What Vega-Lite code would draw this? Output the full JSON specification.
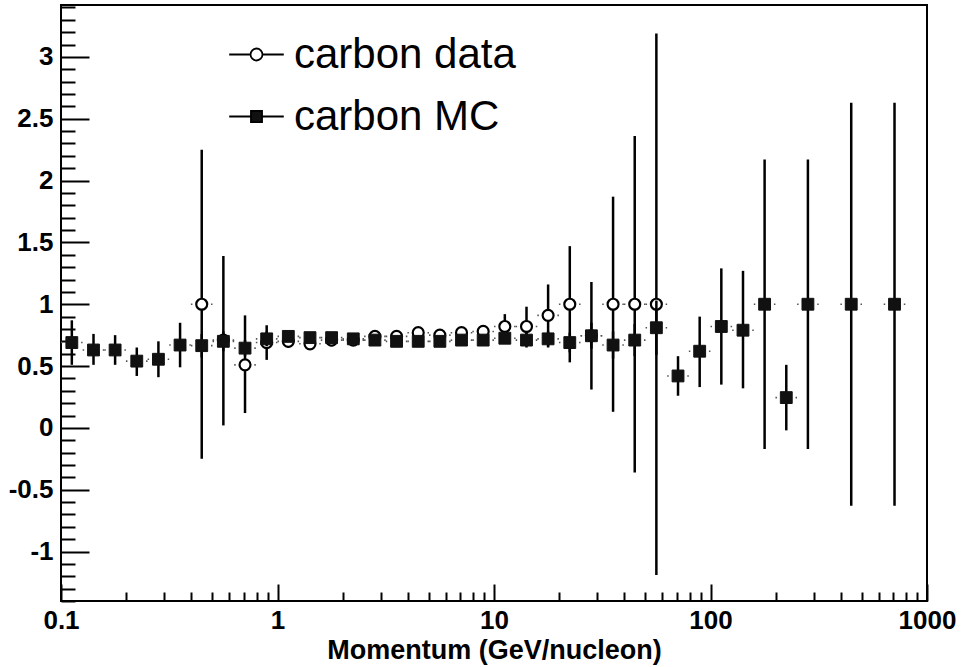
{
  "$schema": "https://vega.github.io/schema/vega-lite/v6.json",
  "width": 866,
  "height": 596,
  "autosize": {"type": "none"},
  "padding": {"left": 61, "top": 5, "right": 34, "bottom": 66},
  "background": "white",
  "config": {
    "view": {"stroke": "black", "strokeWidth": 2},
    "axis": {
      "domain": false,
      "grid": false,
      "tickColor": "black",
      "tickWidth": 2,
      "labelFont": "Liberation Sans",
      "labelFontWeight": "bold",
      "labelFontSize": 26,
      "labelColor": "black",
      "labelFlush": false,
      "labelOverlap": false,
      "labelBound": false,
      "titleFont": "Liberation Sans",
      "titleFontWeight": "bold",
      "titleFontSize": 27,
      "titleColor": "black"
    },
    "legend": {
      "orient": "none",
      "legendX": 174.5,
      "legendY": 28.5,
      "padding": 0,
      "labelFont": "Liberation Sans",
      "labelFontSize": 42,
      "labelFontWeight": "normal",
      "labelColor": "black",
      "labelLimit": 0,
      "labelOffset": 16.5,
      "rowPadding": 20,
      "symbolSize": 169,
      "symbolStrokeColor": "black",
      "symbolStrokeWidth": 1.8,
      "symbolOpacity": 1
    }
  },
  "resolve": {"axis": {"x": "independent", "y": "independent"}},
  "datasets": {
    "pts": [
      {"s": "carbon data", "x": 0.4467, "xlo": 0.3981, "xhi": 0.5012, "y": 1.0, "ylo": -0.25, "yhi": 2.25},
      {"s": "carbon data", "x": 0.5623, "xlo": 0.5012, "xhi": 0.631, "y": 0.71, "ylo": 0.02, "yhi": 1.39},
      {"s": "carbon data", "x": 0.7079, "xlo": 0.631, "xhi": 0.7943, "y": 0.51, "ylo": 0.12, "yhi": 0.91},
      {"s": "carbon data", "x": 0.8913, "xlo": 0.7943, "xhi": 1.0, "y": 0.69, "ylo": 0.55, "yhi": 0.83},
      {"s": "carbon data", "x": 1.122, "xlo": 1.0, "xhi": 1.259, "y": 0.70, "ylo": 0.65, "yhi": 0.75},
      {"s": "carbon data", "x": 1.413, "xlo": 1.259, "xhi": 1.585, "y": 0.68, "ylo": 0.63, "yhi": 0.73},
      {"s": "carbon data", "x": 1.778, "xlo": 1.585, "xhi": 1.995, "y": 0.71, "ylo": 0.66, "yhi": 0.76},
      {"s": "carbon data", "x": 2.239, "xlo": 1.995, "xhi": 2.512, "y": 0.71, "ylo": 0.67, "yhi": 0.75},
      {"s": "carbon data", "x": 2.818, "xlo": 2.512, "xhi": 3.162, "y": 0.74, "ylo": 0.70, "yhi": 0.78},
      {"s": "carbon data", "x": 3.548, "xlo": 3.162, "xhi": 3.981, "y": 0.74, "ylo": 0.70, "yhi": 0.78},
      {"s": "carbon data", "x": 4.467, "xlo": 3.981, "xhi": 5.012, "y": 0.77, "ylo": 0.73, "yhi": 0.81},
      {"s": "carbon data", "x": 5.623, "xlo": 5.012, "xhi": 6.31, "y": 0.75, "ylo": 0.70, "yhi": 0.80},
      {"s": "carbon data", "x": 7.079, "xlo": 6.31, "xhi": 7.943, "y": 0.77, "ylo": 0.73, "yhi": 0.81},
      {"s": "carbon data", "x": 8.913, "xlo": 7.943, "xhi": 10, "y": 0.78, "ylo": 0.73, "yhi": 0.83},
      {"s": "carbon data", "x": 11.22, "xlo": 10, "xhi": 12.59, "y": 0.82, "ylo": 0.72, "yhi": 0.92},
      {"s": "carbon data", "x": 14.13, "xlo": 12.59, "xhi": 15.85, "y": 0.82, "ylo": 0.66, "yhi": 0.98},
      {"s": "carbon data", "x": 17.78, "xlo": 15.85, "xhi": 19.95, "y": 0.91, "ylo": 0.65, "yhi": 1.16},
      {"s": "carbon data", "x": 22.39, "xlo": 19.95, "xhi": 25.12, "y": 1.0, "ylo": 0.53, "yhi": 1.47},
      {"s": "carbon data", "x": 28.18, "xlo": 25.12, "xhi": 31.62, "y": 0.745, "ylo": 0.31, "yhi": 1.18},
      {"s": "carbon data", "x": 35.48, "xlo": 31.62, "xhi": 39.81, "y": 1.0, "ylo": 0.13, "yhi": 1.87},
      {"s": "carbon data", "x": 44.67, "xlo": 39.81, "xhi": 50.12, "y": 1.0, "ylo": -0.36, "yhi": 2.36},
      {"s": "carbon data", "x": 56.23, "xlo": 50.12, "xhi": 63.1, "y": 1.0, "ylo": -1.19, "yhi": 3.19},
      {"s": "carbon MC", "x": 0.1122, "xlo": 0.1, "xhi": 0.1259, "y": 0.69, "ylo": 0.51, "yhi": 0.87},
      {"s": "carbon MC", "x": 0.1413, "xlo": 0.1259, "xhi": 0.1585, "y": 0.63, "ylo": 0.51, "yhi": 0.76},
      {"s": "carbon MC", "x": 0.1778, "xlo": 0.1585, "xhi": 0.1995, "y": 0.63, "ylo": 0.51, "yhi": 0.75},
      {"s": "carbon MC", "x": 0.2239, "xlo": 0.1995, "xhi": 0.2512, "y": 0.54, "ylo": 0.42, "yhi": 0.65},
      {"s": "carbon MC", "x": 0.2818, "xlo": 0.2512, "xhi": 0.3162, "y": 0.555, "ylo": 0.41, "yhi": 0.70},
      {"s": "carbon MC", "x": 0.3548, "xlo": 0.3162, "xhi": 0.3981, "y": 0.67, "ylo": 0.49, "yhi": 0.85},
      {"s": "carbon MC", "x": 0.4467, "xlo": 0.3981, "xhi": 0.5012, "y": 0.665, "ylo": 0.57, "yhi": 0.76},
      {"s": "carbon MC", "x": 0.5623, "xlo": 0.5012, "xhi": 0.631, "y": 0.70, "ylo": 0.62, "yhi": 0.78},
      {"s": "carbon MC", "x": 0.7079, "xlo": 0.631, "xhi": 0.7943, "y": 0.645, "ylo": 0.58, "yhi": 0.71},
      {"s": "carbon MC", "x": 0.8913, "xlo": 0.7943, "xhi": 1.0, "y": 0.72, "ylo": 0.66, "yhi": 0.78},
      {"s": "carbon MC", "x": 1.122, "xlo": 1.0, "xhi": 1.259, "y": 0.74, "ylo": 0.70, "yhi": 0.78},
      {"s": "carbon MC", "x": 1.413, "xlo": 1.259, "xhi": 1.585, "y": 0.73, "ylo": 0.69, "yhi": 0.77},
      {"s": "carbon MC", "x": 1.778, "xlo": 1.585, "xhi": 1.995, "y": 0.73, "ylo": 0.69, "yhi": 0.77},
      {"s": "carbon MC", "x": 2.239, "xlo": 1.995, "xhi": 2.512, "y": 0.72, "ylo": 0.68, "yhi": 0.76},
      {"s": "carbon MC", "x": 2.818, "xlo": 2.512, "xhi": 3.162, "y": 0.71, "ylo": 0.68, "yhi": 0.74},
      {"s": "carbon MC", "x": 3.548, "xlo": 3.162, "xhi": 3.981, "y": 0.70, "ylo": 0.67, "yhi": 0.73},
      {"s": "carbon MC", "x": 4.467, "xlo": 3.981, "xhi": 5.012, "y": 0.70, "ylo": 0.67, "yhi": 0.73},
      {"s": "carbon MC", "x": 5.623, "xlo": 5.012, "xhi": 6.31, "y": 0.70, "ylo": 0.67, "yhi": 0.73},
      {"s": "carbon MC", "x": 7.079, "xlo": 6.31, "xhi": 7.943, "y": 0.71, "ylo": 0.67, "yhi": 0.75},
      {"s": "carbon MC", "x": 8.913, "xlo": 7.943, "xhi": 10, "y": 0.71, "ylo": 0.67, "yhi": 0.75},
      {"s": "carbon MC", "x": 11.22, "xlo": 10, "xhi": 12.59, "y": 0.725, "ylo": 0.68, "yhi": 0.77},
      {"s": "carbon MC", "x": 14.13, "xlo": 12.59, "xhi": 15.85, "y": 0.71, "ylo": 0.65, "yhi": 0.77},
      {"s": "carbon MC", "x": 17.78, "xlo": 15.85, "xhi": 19.95, "y": 0.72, "ylo": 0.66, "yhi": 0.78},
      {"s": "carbon MC", "x": 22.39, "xlo": 19.95, "xhi": 25.12, "y": 0.69, "ylo": 0.61, "yhi": 0.77},
      {"s": "carbon MC", "x": 28.18, "xlo": 25.12, "xhi": 31.62, "y": 0.745, "ylo": 0.64, "yhi": 0.85},
      {"s": "carbon MC", "x": 35.48, "xlo": 31.62, "xhi": 39.81, "y": 0.67, "ylo": 0.56, "yhi": 0.78},
      {"s": "carbon MC", "x": 44.67, "xlo": 39.81, "xhi": 50.12, "y": 0.71, "ylo": 0.58, "yhi": 0.84},
      {"s": "carbon MC", "x": 56.23, "xlo": 50.12, "xhi": 63.1, "y": 0.81, "ylo": 0.59, "yhi": 1.03},
      {"s": "carbon MC", "x": 70.79, "xlo": 63.1, "xhi": 79.43, "y": 0.42, "ylo": 0.26, "yhi": 0.58},
      {"s": "carbon MC", "x": 89.13, "xlo": 79.43, "xhi": 100, "y": 0.62, "ylo": 0.33, "yhi": 0.90},
      {"s": "carbon MC", "x": 112.2, "xlo": 100, "xhi": 125.9, "y": 0.82, "ylo": 0.35, "yhi": 1.29},
      {"s": "carbon MC", "x": 141.3, "xlo": 125.9, "xhi": 158.5, "y": 0.79, "ylo": 0.32, "yhi": 1.27},
      {"s": "carbon MC", "x": 177.8, "xlo": 158.5, "xhi": 199.5, "y": 1.0, "ylo": -0.17, "yhi": 2.17},
      {"s": "carbon MC", "x": 223.9, "xlo": 199.5, "xhi": 251.2, "y": 0.245, "ylo": -0.02, "yhi": 0.51},
      {"s": "carbon MC", "x": 281.8, "xlo": 251.2, "xhi": 316.2, "y": 1.0, "ylo": -0.17, "yhi": 2.17},
      {"s": "carbon MC", "x": 446.7, "xlo": 398.1, "xhi": 501.2, "y": 1.0, "ylo": -0.63, "yhi": 2.63},
      {"s": "carbon MC", "x": 707.9, "xlo": 631.0, "xhi": 794.3, "y": 1.0, "ylo": -0.63, "yhi": 2.63}
    ]
  },
  "data": {"name": "pts"},
  "layer": [
    {
      "mark": {"type": "rule", "strokeDash": [1.5, 18.6], "strokeWidth": 1.6, "color": "#555555"},
      "encoding": {
        "x": {
          "field": "xlo", "type": "quantitative",
          "scale": {"type": "log", "domain": [0.1, 1000], "nice": false},
          "title": "Momentum (GeV/nucleon)",
          "axis": {
            "orient": "bottom",
            "values": [0.1, 1, 10, 100, 1000],
            "labelExpr": "datum.value + ''",
            "tickSize": -17,
            "labelPadding": 23,
            "titleY": 57,
            "titleBaseline": "alphabetic"
          }
        },
        "x2": {"field": "xhi"},
        "y": {
          "field": "y", "type": "quantitative",
          "scale": {"domain": [-1.4, 3.42], "nice": false, "zero": false},
          "title": null,
          "axis": {
            "orient": "left",
            "values": [-1, -0.5, 0, 0.5, 1, 1.5, 2, 2.5, 3],
            "labelExpr": "datum.value + ''",
            "tickSize": -28,
            "labelPadding": 36
          }
        }
      }
    },
    {
      "transform": [{"filter": "datum.s == 'carbon data'"}],
      "mark": {"type": "rule", "strokeWidth": 2.5, "color": "black"},
      "encoding": {
        "x": {"field": "x", "type": "quantitative", "scale": {"type": "log", "domain": [0.1, 1000], "nice": false}, "axis": null},
        "y": {"field": "ylo", "type": "quantitative", "scale": {"domain": [-1.4, 3.42], "nice": false, "zero": false}, "axis": null},
        "y2": {"field": "yhi"}
      }
    },
    {
      "transform": [{"filter": "datum.s == 'carbon data'"}],
      "mark": {"type": "point", "shape": "circle", "filled": true, "fill": "white", "stroke": "black", "strokeWidth": 2.2, "size": 120, "opacity": 1},
      "encoding": {
        "x": {"field": "x", "type": "quantitative", "scale": {"type": "log", "domain": [0.1, 1000], "nice": false}, "axis": null},
        "y": {"field": "y", "type": "quantitative", "scale": {"domain": [-1.4, 3.42], "nice": false, "zero": false}, "axis": null}
      }
    },
    {
      "transform": [{"filter": "datum.s == 'carbon MC'"}],
      "mark": {"type": "rule", "strokeWidth": 2.5, "color": "black"},
      "encoding": {
        "x": {"field": "x", "type": "quantitative", "scale": {"type": "log", "domain": [0.1, 1000], "nice": false}, "axis": null},
        "y": {"field": "ylo", "type": "quantitative", "scale": {"domain": [-1.4, 3.42], "nice": false, "zero": false}, "axis": null},
        "y2": {"field": "yhi"}
      }
    },
    {
      "transform": [{"filter": "datum.s == 'carbon MC'"}],
      "mark": {"type": "point", "shape": "square", "filled": true, "fill": "#111111", "stroke": "#111111", "strokeWidth": 1, "size": 140, "opacity": 1},
      "encoding": {
        "x": {"field": "x", "type": "quantitative", "scale": {"type": "log", "domain": [0.1, 1000], "nice": false}, "axis": null},
        "y": {"field": "y", "type": "quantitative", "scale": {"domain": [-1.4, 3.42], "nice": false, "zero": false}, "axis": null}
      }
    },
    {
      "transform": [{"filter": "datum.y > 100"}],
      "mark": {"type": "point", "filled": true, "stroke": "black", "strokeWidth": 1.8, "opacity": 1},
      "encoding": {
        "x": {"field": "x", "type": "quantitative", "scale": {"type": "log", "domain": [0.1, 1000], "nice": false}, "axis": null},
        "y": {"field": "y", "type": "quantitative", "scale": {"domain": [-1.4, 3.42], "nice": false, "zero": false}, "axis": null},
        "shape": {
          "field": "s", "type": "nominal",
          "scale": {"domain": ["carbon data", "carbon MC"], "range": ["M-4.2,0H-0.92M0.92,0H4.2M0.92,0A0.92,0.92 0 1,1 -0.92,0A0.92,0.92 0 1,1 0.92,0Z", "M-4.2,0H-0.85M0.85,0H4.2M-0.85,-0.85H0.85V0.85H-0.85Z"]},
          "legend": {"title": null, "encode": {"symbols": {"update": {"stroke": {"value": "black"}, "strokeWidth": {"value": 1.8}, "opacity": {"value": 1}}}}}
        },
        "fill": {
          "field": "s", "type": "nominal",
          "scale": {"domain": ["carbon data", "carbon MC"], "range": ["white", "#111111"]},
          "legend": {"title": null, "encode": {"symbols": {"update": {"stroke": {"value": "black"}, "strokeWidth": {"value": 1.8}, "opacity": {"value": 1}}}}}
        }
      }
    },
    {
      "transform": [{"filter": "datum.y > 100"}],
      "mark": {"type": "point", "opacity": 0},
      "encoding": {
        "x": {
          "field": "x", "type": "quantitative",
          "scale": {"type": "log", "domain": [0.1, 1000], "nice": false},
          "title": null,
          "axis": {
            "orient": "bottom",
            "values": [0.2,0.3,0.4,0.5,0.6,0.7,0.8,0.9,2,3,4,5,6,7,8,9,20,30,40,50,60,70,80,90,200,300,400,500,600,700,800,900],
            "labels": false,
            "tickSize": -9
          }
        },
        "y": {
          "field": "y", "type": "quantitative",
          "scale": {"domain": [-1.4, 3.42], "nice": false, "zero": false},
          "title": null,
          "axis": {
            "orient": "left",
            "values": [-1.4,-1.3,-1.2,-1.1,-0.9,-0.8,-0.7,-0.6,-0.4,-0.3,-0.2,-0.1,0.1,0.2,0.3,0.4,0.6,0.7,0.8,0.9,1.1,1.2,1.3,1.4,1.6,1.7,1.8,1.9,2.1,2.2,2.3,2.4,2.6,2.7,2.8,2.9,3.1,3.2,3.3,3.4],
            "labels": false,
            "tickSize": -14
          }
        }
      }
    }
  ]
}
